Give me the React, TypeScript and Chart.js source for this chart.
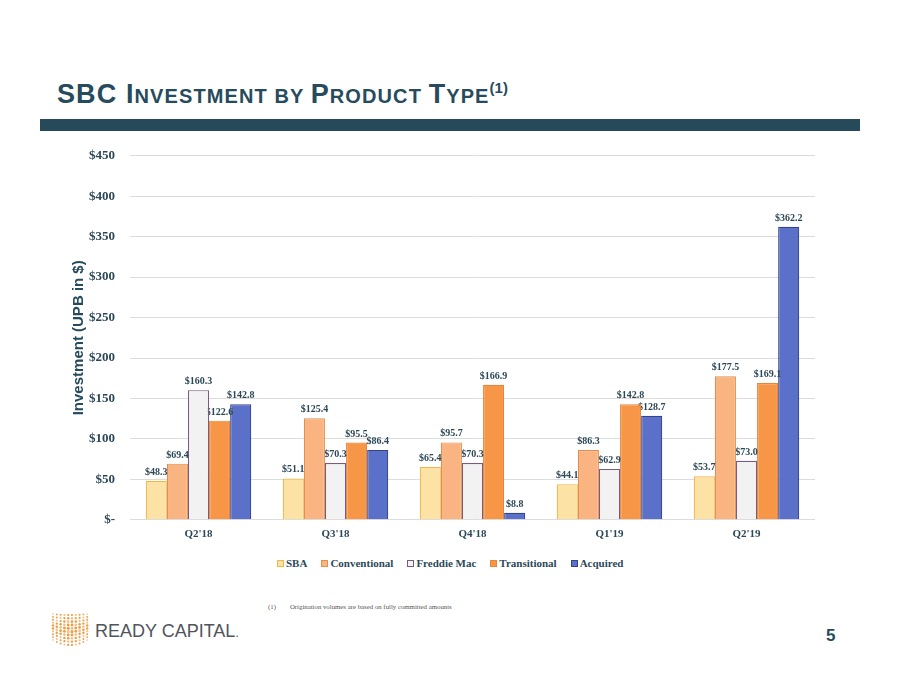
import React, { useEffect, useRef } from "react";
import { Chart, registerables } from "chart.js";
Chart.register(...registerables);

const categories = ["Q2'18", "Q3'18", "Q4'18", "Q1'19", "Q2'19"];
const sbaValues = [48.3, 51.1, 65.4, 44.1, 53.7];
const conventionalValues = [69.4, 125.4, 95.7, 86.3, 177.5];
const freddieMacValues = [160.3, 70.3, 70.3, 62.9, 73.0];
const transitionalValues = [122.6, 95.5, 166.9, 142.8, 169.1];
const acquiredValues = [142.8, 86.4, 8.8, 128.7, 362.2];
const seriesNames = ["SBA", "Conventional", "Freddie Mac", "Transitional", "Acquired"];
const yAxisTitle = "Investment (UPB in $)";
const yMax = 450;
const yStep = 50;

const DARK = "#264B5D";
const TEXT = "#2C4858";

const fills = ["#FDE2A6", "#F9B481", "#F2F2F2", "#F79646", "#5B70C8"];
const borders = ["#F0B64A", "#E38E4C", "#7A5A80", "#E5863A", "#34428A"];

const labelPlugin = {
  id: "barLabels",
  afterDatasetDraw(chart: any, args: any) {
    const ctx = chart.ctx;
    const ds = chart.data.datasets[args.index];
    ctx.save();
    ctx.font = "bold 10px 'Liberation Serif', 'DejaVu Serif', serif";
    ctx.fillStyle = TEXT;
    ctx.textAlign = "center";
    ctx.textBaseline = "alphabetic";
    args.meta.data.forEach((bar: any, i: number) => {
      const v = ds.data[i] as number;
      ctx.fillText("$" + v.toFixed(1), bar.x, bar.y - 6);
    });
    ctx.restore();
  },
};

const yTitlePlugin = {
  id: "yTitle",
  afterDraw(chart: any) {
    const ctx = chart.ctx;
    const a = chart.chartArea;
    ctx.save();
    ctx.translate(a.left - 51, (a.top + a.bottom) / 2);
    ctx.rotate(-Math.PI / 2);
    ctx.font = "bold 15px 'Liberation Sans', Arial, sans-serif";
    ctx.fillStyle = DARK;
    ctx.textAlign = "center";
    ctx.textBaseline = "middle";
    ctx.fillText(yAxisTitle, 0, 0);
    ctx.restore();
  },
};

function Logo() {
  const dots: React.ReactElement[] = [];
  const cols = 10;
  const rows = 10;
  for (let c = 0; c < cols; c++) {
    const dc = (c - (cols - 1) / 2) / ((cols - 1) / 2);
    const sag = 3 * (1 - dc * dc);
    const h = 30 - 4 * dc * dc;
    for (let r = 0; r < rows; r++) {
      const dr = Math.abs(r - (rows - 1) / 2) / ((rows - 1) / 2);
      const rad = 1.6 - 0.45 * dr - 0.35 * Math.abs(dc);
      const x = 2 + c * 3.8;
      const y = 2 + sag + 2 * dc * dc + (r * h) / (rows - 1);
      const col = (r + c) % 3 === 0 ? "#F6BE80" : "#EE9C45";
      dots.push(<circle key={c + "-" + r} cx={x} cy={y} r={rad} fill={col} />);
    }
  }
  return (
    <svg width={40} height={40} style={{ position: "absolute", left: 51, top: 610 }}>
      {dots}
    </svg>
  );
}

function Legend() {
  return (
    <div
      style={{
        position: "absolute",
        left: 277,
        top: 556,
        display: "flex",
        alignItems: "center",
        fontFamily: "'Liberation Serif', serif",
        fontWeight: "bold",
        fontSize: 11,
        color: TEXT,
        whiteSpace: "nowrap",
        lineHeight: "14px",
      }}
    >
      {seriesNames.map((n, i) => (
        <div key={n} style={{ display: "flex", alignItems: "center", marginRight: i < seriesNames.length - 1 ? 14 : 0 }}>
          <span
            style={{
              display: "inline-block",
              width: 5,
              height: 5,
              background: fills[i],
              border: "1px solid " + borders[i],
              marginRight: 2,
            }}
          />
          <span>{n}</span>
        </div>
      ))}
    </div>
  );
}

export default function App() {
  const ref = useRef<HTMLCanvasElement | null>(null);
  useEffect(() => {
    document.body.style.margin = "0";
    const lists = [sbaValues, conventionalValues, freddieMacValues, transitionalValues, acquiredValues];
    const chart = new Chart(ref.current as HTMLCanvasElement, {
      type: "bar",
      data: {
        labels: categories,
        datasets: lists.map((d, i) => ({
          label: seriesNames[i],
          data: d,
          backgroundColor: fills[i],
          borderColor: borders[i],
          borderWidth: 1.2,
          categoryPercentage: 0.77,
          barPercentage: 1,
        })),
      },
      options: {
        animation: false,
        responsive: false,
        maintainAspectRatio: false,
        layout: { padding: { left: 74, right: 85, top: 8, bottom: 4 } },
        scales: {
          x: {
            grid: { display: false, drawTicks: false },
            border: { display: false },
            ticks: {
              color: TEXT,
              padding: 8,
              font: { family: "'Liberation Serif', serif", size: 11, weight: "bold" },
            },
          },
          y: {
            min: 0,
            max: yMax,
            ticks: {
              stepSize: yStep,
              color: TEXT,
              padding: 15,
              font: { family: "'Liberation Serif', serif", size: 13, weight: "bold" },
              callback: (v: any) => (Number(v) === 0 ? "$-" : "$" + v),
            },
            grid: { color: "#DCDCDC", lineWidth: 1, drawTicks: false },
            border: { display: false },
          },
        },
        plugins: {
          legend: { display: false },
          tooltip: { enabled: false },
        },
      },
      plugins: [labelPlugin, yTitlePlugin],
    } as any);
    return () => chart.destroy();
  }, []);

  const big = { fontSize: 27 };
  const small = { fontSize: 20 };
  return (
    <div style={{ position: "relative", width: 900, height: 695, background: "#fff", overflow: "hidden" }}>
      <div
        style={{
          position: "absolute",
          left: 57,
          top: 81,
          fontFamily: "'Liberation Sans', Arial, sans-serif",
          fontWeight: "bold",
          color: DARK,
          lineHeight: 1,
          letterSpacing: 1.1,
          whiteSpace: "nowrap",
        }}
      >
        <span style={big}>SBC I</span>
        <span style={small}>NVESTMENT BY </span>
        <span style={big}>P</span>
        <span style={small}>RODUCT </span>
        <span style={big}>T</span>
        <span style={small}>YPE</span>
        <span style={{ fontSize: 15, position: "relative", top: -10, letterSpacing: 0 }}>(1)</span>
      </div>
      <div style={{ position: "absolute", left: 40, top: 119, width: 820, height: 12, background: "#264A59" }} />
      <canvas ref={ref} width={900} height={420} style={{ position: "absolute", left: 0, top: 133, width: 900, height: 420 }} />
      <Legend />
      <div
        style={{
          position: "absolute",
          left: 268,
          top: 603,
          fontFamily: "'Liberation Serif', serif",
          fontSize: 6.8,
          color: "#555",
          whiteSpace: "nowrap",
        }}
      >
        <span style={{ marginRight: 14 }}>(1)</span>Origination volumes are based on fully committed amounts
      </div>
      <Logo />
      <div
        style={{
          position: "absolute",
          left: 95,
          top: 621,
          fontFamily: "'Liberation Sans', Arial, sans-serif",
          fontSize: 18,
          color: "#50555B",
          letterSpacing: 0,
          whiteSpace: "nowrap",
        }}
      >
        READY CAPITAL<span style={{ fontSize: 12 }}>.</span>
      </div>
      <div
        style={{
          position: "absolute",
          left: 826,
          top: 626,
          fontFamily: "'Liberation Sans', Arial, sans-serif",
          fontWeight: "bold",
          fontSize: 17,
          color: DARK,
        }}
      >
        5
      </div>
    </div>
  );
}
